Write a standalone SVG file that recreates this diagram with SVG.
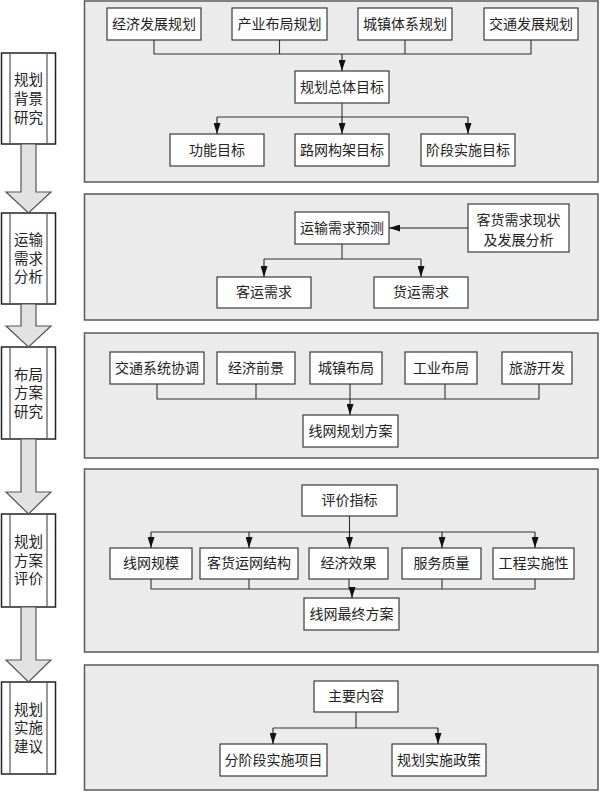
<svg xmlns="http://www.w3.org/2000/svg" width="601" height="792" viewBox="0 0 601 792">
<style>
.panel{fill:#ebebeb;stroke:#5a5a5a;stroke-width:1.5}
.box{fill:#fff;stroke:#3a3a3a;stroke-width:1.2}
.side{fill:#fff;stroke:#222;stroke-width:1.5}
.sline{stroke:#555;stroke-width:1.2;fill:none}
.blk{fill:#e2e2e2;stroke:#555;stroke-width:1.2}
.t{font-family:"Liberation Serif","Noto Sans CJK SC",serif;font-size:14px;fill:#222;text-anchor:middle;dominant-baseline:central}
.st{font-family:"Liberation Serif","Noto Sans CJK SC",serif;font-size:14.5px;fill:#222;text-anchor:middle;dominant-baseline:central}
.c{fill:none;stroke:#333;stroke-width:1.1}
.a{fill:none;stroke:#222;stroke-width:1.1;marker-end:url(#ah)}
</style>
<defs>
<marker id="ah" viewBox="0 0 11 7" refX="11" refY="3.5" markerWidth="11" markerHeight="7" markerUnits="userSpaceOnUse" orient="auto">
<path d="M0,0 L11,3.5 L0,7 z" fill="#111"/>
</marker>
</defs>
<rect width="601" height="792" fill="#fff"/>

<!-- panels -->
<g id="panels">
<rect class="panel" x="84.5" y="1" width="513.5" height="181"/>
<rect class="panel" x="84.5" y="194" width="513.5" height="126"/>
<rect class="panel" x="84.5" y="333" width="513.5" height="125"/>
<rect class="panel" x="84.5" y="469" width="513.5" height="183"/>
<rect class="panel" x="84.5" y="665" width="513.5" height="125"/>
</g>

<!-- left column -->
<g id="stage1">
<rect class="side" x="1.5" y="53" width="54" height="91"/>
<line class="sline" x1="10" y1="53" x2="10" y2="144"/><line class="sline" x1="47" y1="53" x2="47" y2="144"/>
<text class="st" x="28.5" y="80">规划</text><text class="st" x="28.5" y="99">背景</text><text class="st" x="28.5" y="117.5">研究</text>
</g>
<g id="stage2">
<rect class="side" x="1.5" y="213" width="54" height="91"/>
<line class="sline" x1="10" y1="213" x2="10" y2="304"/><line class="sline" x1="47" y1="213" x2="47" y2="304"/>
<text class="st" x="28.5" y="240">运输</text><text class="st" x="28.5" y="258.5">需求</text><text class="st" x="28.5" y="277">分析</text>
</g>
<g id="stage3">
<rect class="side" x="1.5" y="347" width="54" height="92"/>
<line class="sline" x1="10" y1="347" x2="10" y2="439"/><line class="sline" x1="47" y1="347" x2="47" y2="439"/>
<text class="st" x="28.5" y="374.5">布局</text><text class="st" x="28.5" y="393">方案</text><text class="st" x="28.5" y="411.5">研究</text>
</g>
<g id="stage4">
<rect class="side" x="1.5" y="514" width="54" height="93"/>
<line class="sline" x1="10" y1="514" x2="10" y2="607"/><line class="sline" x1="47" y1="514" x2="47" y2="607"/>
<text class="st" x="28.5" y="542">规划</text><text class="st" x="28.5" y="560.5">方案</text><text class="st" x="28.5" y="579">评价</text>
</g>
<g id="stage5">
<rect class="side" x="1.5" y="682" width="54" height="92"/>
<line class="sline" x1="10" y1="682" x2="10" y2="774"/><line class="sline" x1="47" y1="682" x2="47" y2="774"/>
<text class="st" x="28.5" y="709.5">规划</text><text class="st" x="28.5" y="728">实施</text><text class="st" x="28.5" y="746.5">建议</text>
</g>
<g id="stagearrows">
<path class="blk" d="M21,144 L21,192 L6,192 L28.5,213 L51,192 L36,192 L36,144 Z"/>
<path class="blk" d="M21,304 L21,326 L6,326 L28.5,347 L51,326 L36,326 L36,304 Z"/>
<path class="blk" d="M21,439 L21,492 L6,492 L28.5,514 L51,492 L36,492 L36,439 Z"/>
<path class="blk" d="M21,607 L21,660 L6,660 L28.5,682 L51,660 L36,660 L36,607 Z"/>
</g>

<!-- panel 1 nodes -->
<g id="n_jjfz"><rect class="box" x="107" y="8" width="94" height="32"/><text class="t" x="154" y="24">经济发展规划</text></g>
<g id="n_cybj"><rect class="box" x="232" y="8" width="95" height="32"/><text class="t" x="279.5" y="24">产业布局规划</text></g>
<g id="n_czt"><rect class="box" x="358" y="8" width="94" height="32"/><text class="t" x="405" y="24">城镇体系规划</text></g>
<g id="n_jtfz"><rect class="box" x="484" y="8" width="94" height="32"/><text class="t" x="531" y="24">交通发展规划</text></g>
<g id="n_ztmb"><rect class="box" x="295" y="71" width="94" height="32"/><text class="t" x="342" y="87">规划总体目标</text></g>
<g id="n_gnmb"><rect class="box" x="170" y="134" width="94" height="32"/><text class="t" x="217" y="150">功能目标</text></g>
<g id="n_lwgj"><rect class="box" x="295" y="134" width="94" height="32"/><text class="t" x="342" y="150">路网构架目标</text></g>
<g id="n_jdss"><rect class="box" x="421" y="134" width="94" height="32"/><text class="t" x="468" y="150">阶段实施目标</text></g>

<!-- panel 2 nodes -->
<g id="n_ysxq"><rect class="box" x="295" y="212" width="94" height="32"/><text class="t" x="342" y="228">运输需求预测</text></g>
<g id="n_khxz"><rect class="box" x="468" y="204" width="101" height="48"/><text class="t" x="518.5" y="220">客货需求现状</text><text class="t" x="518.5" y="240">及发展分析</text></g>
<g id="n_kyxq"><rect class="box" x="217" y="277" width="94" height="31"/><text class="t" x="264" y="292.5">客运需求</text></g>
<g id="n_hyxq"><rect class="box" x="374" y="277" width="94" height="31"/><text class="t" x="421" y="292.5">货运需求</text></g>

<!-- panel 3 nodes -->
<g id="n_jtxt"><rect class="box" x="110" y="352" width="94" height="32"/><text class="t" x="157" y="368">交通系统协调</text></g>
<g id="n_jjqj"><rect class="box" x="217" y="352" width="78" height="32"/><text class="t" x="256" y="368">经济前景</text></g>
<g id="n_czbj"><rect class="box" x="310" y="352" width="72" height="32"/><text class="t" x="346" y="368">城镇布局</text></g>
<g id="n_gybj"><rect class="box" x="405" y="352" width="72" height="32"/><text class="t" x="441" y="368">工业布局</text></g>
<g id="n_lykf"><rect class="box" x="502" y="352" width="70" height="32"/><text class="t" x="537" y="368">旅游开发</text></g>
<g id="n_xwgh"><rect class="box" x="303" y="415" width="95" height="32"/><text class="t" x="350.5" y="431">线网规划方案</text></g>

<!-- panel 4 nodes -->
<g id="n_pjzb"><rect class="box" x="302" y="485" width="95" height="31"/><text class="t" x="349.5" y="500.5">评价指标</text></g>
<g id="n_xwgm"><rect class="box" x="110" y="548" width="82" height="31"/><text class="t" x="151" y="563.5">线网规模</text></g>
<g id="n_khyw"><rect class="box" x="200" y="548" width="98" height="31"/><text class="t" x="249" y="563.5">客货运网结构</text></g>
<g id="n_jjxg"><rect class="box" x="309" y="548" width="79" height="31"/><text class="t" x="348.5" y="563.5">经济效果</text></g>
<g id="n_fwzl"><rect class="box" x="402" y="548" width="79" height="31"/><text class="t" x="441.5" y="563.5">服务质量</text></g>
<g id="n_gcss"><rect class="box" x="493" y="548" width="81" height="31"/><text class="t" x="533.5" y="563.5">工程实施性</text></g>
<g id="n_xwzz"><rect class="box" x="304" y="598" width="95" height="32"/><text class="t" x="351.5" y="614">线网最终方案</text></g>

<!-- panel 5 nodes -->
<g id="n_zynr"><rect class="box" x="314" y="681" width="84" height="31"/><text class="t" x="356" y="696.5">主要内容</text></g>
<g id="n_fjd"><rect class="box" x="220" y="744" width="107" height="32"/><text class="t" x="273.5" y="760">分阶段实施项目</text></g>
<g id="n_ghss"><rect class="box" x="392" y="744" width="94" height="32"/><text class="t" x="439" y="760">规划实施政策</text></g>

<!-- connectors -->
<g id="connectors">
<path class="c" d="M154,40 V54 H531 V40 M279.5,40 V54 M405,40 V54"/>
<path class="a" d="M342,54 V71"/>
<path class="c" d="M342,103 V117 M217,117 H468"/>
<path class="a" d="M217,117 V134"/>
<path class="a" d="M342,117 V134"/>
<path class="a" d="M468,117 V134"/>

<path class="a" d="M468,228 H389"/>
<path class="c" d="M342,244 V259 M264,259 H421"/>
<path class="a" d="M264,259 V277"/>
<path class="a" d="M421,259 V277"/>

<path class="c" d="M157,384 V399 H539 V384 M256,384 V399 M350,384 V399 M445,384 V399"/>
<path class="a" d="M350,399 V415"/>

<path class="c" d="M349.5,516 V532 M151,532 H535"/>
<path class="a" d="M151,532 V548"/>
<path class="a" d="M249,532 V548"/>
<path class="a" d="M349.5,532 V548"/>
<path class="a" d="M442,532 V548"/>
<path class="a" d="M535,532 V548"/>
<path class="c" d="M151,579 V589 H535 V579 M249,579 V589 M349,579 V589 M442,579 V589"/>
<path class="a" d="M352,589 V598"/>

<path class="c" d="M356,712 V728 M273,728 H438"/>
<path class="a" d="M273,728 V744"/>
<path class="a" d="M438,728 V744"/>
</g>
</svg>
